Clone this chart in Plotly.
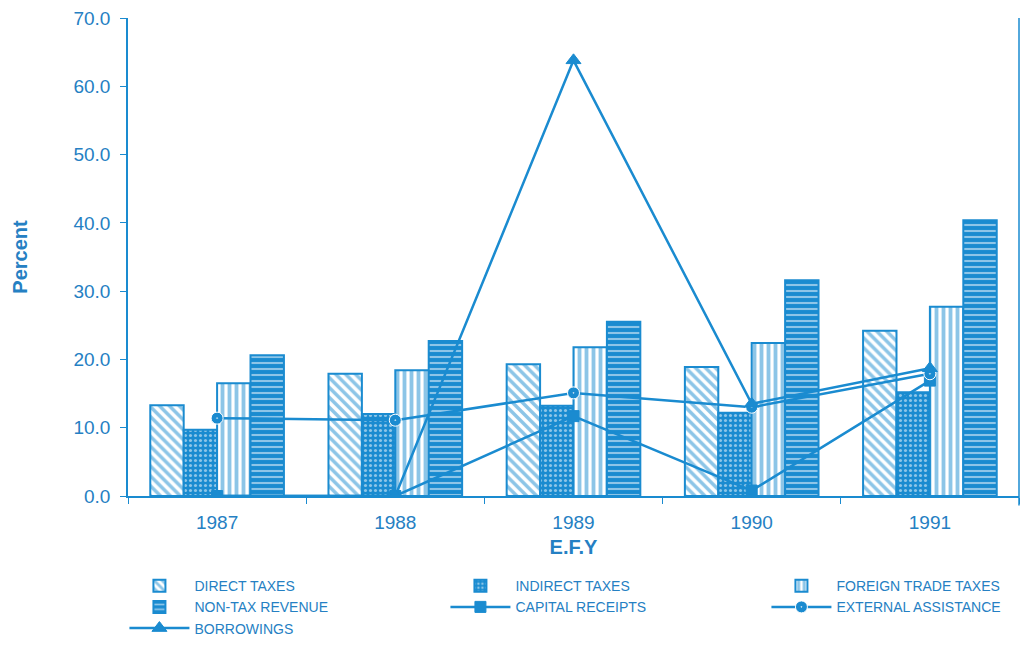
import plotly.graph_objects as go

years = ["1987", "1988", "1989", "1990", "1991"]
direct_taxes = [13.3, 17.9, 19.3, 18.9, 24.2]
indirect_taxes = [9.7, 12.0, 13.2, 12.2, 15.2]
foreign_trade_taxes = [16.5, 18.4, 21.8, 22.4, 27.7]
non_tax_revenue = [20.6, 22.7, 25.5, 31.6, 40.4]
capital_receipts = [0.0, 0.0, 11.7, 0.8, 16.9]
external_assistance = [11.4, 11.1, 15.1, 13.0, 17.9]
borrowings = [0.0, 0.0, 63.8, 13.5, 18.7]

BLUE = "#1a8bd0"
TXT = "#2580c3"
FONT = "Liberation Sans, Arial, sans-serif"

fig = go.Figure()

bar_specs = [
    ("DIRECT TAXES", direct_taxes, "white", BLUE, "\\", 7, 0.5),
    ("INDIRECT TAXES", indirect_taxes, BLUE, "white", ".", 5, 0.3),
    ("FOREIGN TRADE TAXES", foreign_trade_taxes, "white", BLUE, "|", 7, 0.55),
    ("NON-TAX REVENUE", non_tax_revenue, BLUE, "white", "-", 6, 0.35),
]
for name, vals, bg, fg, shape, size, sol in bar_specs:
    fig.add_trace(go.Bar(
        x=years, y=vals, name=name,
        marker=dict(color=bg, line=dict(color=BLUE, width=2),
                    pattern=dict(shape=shape, fgcolor=fg, size=size,
                                 solidity=sol, fillmode="overlay")),
    ))

line_specs = [
    ("CAPITAL RECEIPTS", capital_receipts, "square", 11),
    ("EXTERNAL ASSISTANCE", external_assistance, "circle-dot", 12),
    ("BORROWINGS", borrowings, "triangle-up", 13),
]
for name, vals, sym, ms in line_specs:
    fig.add_trace(go.Scatter(
        x=years, y=vals, name=name, mode="lines+markers",
        line=dict(color=BLUE, width=2.5),
        marker=dict(symbol=sym, size=ms, color=BLUE,
                    line=dict(color="white" if sym == "circle-dot" else BLUE, width=1)),
    ))

fig.update_layout(
    width=1013, height=629,
    paper_bgcolor="white", plot_bgcolor="white",
    margin=dict(l=120, r=2, t=10, b=141, autoexpand=False),
    barmode="group", bargap=0.25, bargroupgap=0,
    font=dict(family=FONT, color=TXT, size=16),
    showlegend=True,
    legend=dict(
        orientation="h", x=-0.004, xanchor="left", y=-0.155, yanchor="top",
        font=dict(family=FONT, size=14, color=TXT),
        entrywidth=246, entrywidthmode="pixels",
        tracegroupgap=0, itemwidth=60, traceorder="normal",
        bgcolor="rgba(0,0,0,0)",
    ),
    shapes=[dict(type="line", xref="paper", yref="paper", x0=1, x1=1,
                 y0=-0.02, y1=1.0, line=dict(color=BLUE, width=1.5))],
)

fig.update_xaxes(
    title=dict(text="<b>E.F.Y</b>", font=dict(size=20, color=TXT), standoff=8),
    showline=True, linecolor=BLUE, linewidth=1.5,
    ticks="outside", ticklen=6, tickcolor=BLUE, tickson="boundaries",
    ticklabelstandoff=8, automargin=False,
    showgrid=False, tickfont=dict(size=19, color=TXT),
)
fig.update_yaxes(
    title=dict(text="<b>Percent</b>", font=dict(size=20, color=TXT), standoff=40),
    range=[0, 70], dtick=10, tickformat=".1f",
    showline=True, linecolor=BLUE, linewidth=1.5,
    ticks="outside", ticklen=6, tickcolor=BLUE, ticklabelstandoff=6,
    ticklabeloverflow="allow", automargin=False,
    showgrid=False, zeroline=False, tickfont=dict(size=19, color=TXT),
)

fig.write_html("out.html")
